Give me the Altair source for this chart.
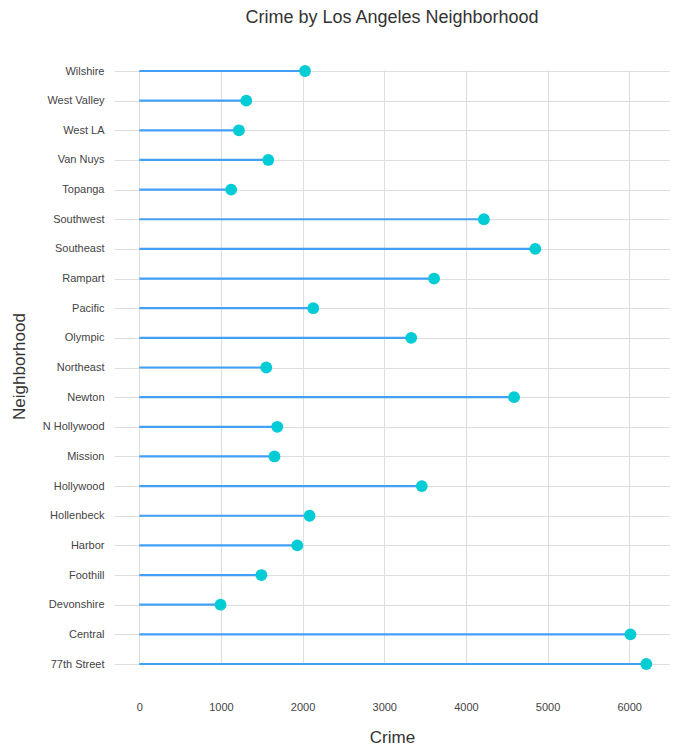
import altair as alt
import pandas as pd

neighborhoods = ["Wilshire", "West Valley", "West LA", "Van Nuys", "Topanga", "Southwest",
                 "Southeast", "Rampart", "Pacific", "Olympic", "Northeast", "Newton",
                 "N Hollywood", "Mission", "Hollywood", "Hollenbeck", "Harbor", "Foothill",
                 "Devonshire", "Central", "77th Street"]
crime = [2030, 1310, 1220, 1580, 1125, 4220,
         4850, 3610, 2130, 3330, 1555, 4590,
         1690, 1655, 3460, 2085, 1935, 1495,
         995, 6015, 6210]
zero = [0] * len(neighborhoods)

df = pd.DataFrame({"Neighborhood": neighborhoods, "Crime": crime, "Start": zero})

FONT = "Liberation Sans"
GRID = "#dedede"

y_scale = alt.Scale(type="point", range=[30, 623], padding=0)

y_enc = alt.Y("Neighborhood:N", sort=neighborhoods, scale=y_scale,
              axis=alt.Axis(title="Neighborhood", labelFontSize=11, labelColor="#444444",
                            labelPadding=10, labelFont=FONT, ticks=False, domain=False,
                            grid=True, gridColor=GRID, titleFontSize=17, titleFont=FONT,
                            titleFontWeight="normal", titleColor="#333333",
                            titleX=-95, titleY=325, titleAlign="center",
                            titleBaseline="middle", titleAngle=-90))

x_scale = alt.Scale(domain=[-310, 6500], nice=False, zero=False)

rules = alt.Chart(df).mark_rule(color="#42a1f4", strokeWidth=2.2).encode(
    x=alt.X("Start:Q", scale=x_scale,
            axis=alt.Axis(title="Crime", values=[0, 1000, 2000, 3000, 4000, 5000, 6000],
                          format="d", labelFontSize=11, labelColor="#444444", labelFont=FONT,
                          labelPadding=8, ticks=False, domain=False, gridColor=GRID,
                          titleFontSize=17, titleFont=FONT, titleFontWeight="normal",
                          titleColor="#333333", titleX=278, titleY=44,
                          titleAlign="center", titleBaseline="middle")),
    x2="Crime:Q",
    y=y_enc,
)

dots = alt.Chart(df).mark_circle(color="#00ccd6", opacity=1, size=140).encode(
    x=alt.X("Crime:Q", scale=x_scale),
    y=alt.Y("Neighborhood:N", sort=neighborhoods, scale=y_scale),
)

chart = alt.layer(rules, dots).properties(
    width=556,
    height=652,
    title=alt.Title("Crime by Los Angeles Neighborhood", fontSize=18, font=FONT,
                    fontWeight="normal", color="#333333", anchor="middle", offset=14),
    autosize=alt.AutoSizeParams(type="none"),
    padding={"left": 106, "top": 33, "right": 0, "bottom": 54},
).configure_view(stroke=None)

chart.save("out.html", embed_options={"renderer": "svg", "actions": False})
